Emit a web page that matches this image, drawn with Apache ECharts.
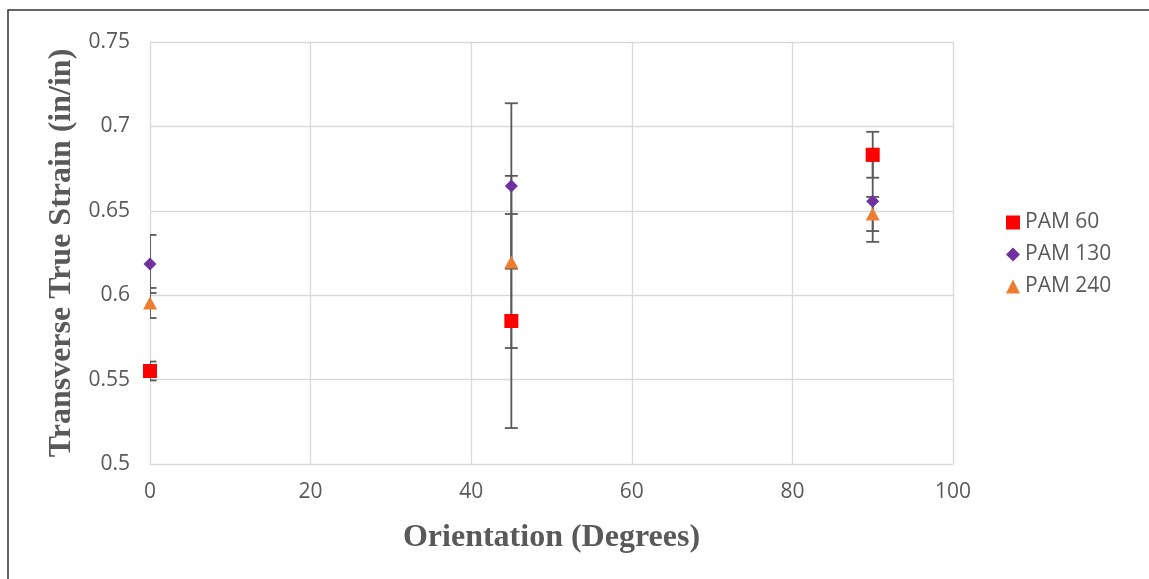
<!DOCTYPE html>
<html>
<head>
<meta charset="utf-8">
<title>Transverse True Strain vs Orientation</title>
<script src="https://cdn.jsdelivr.net/npm/echarts@6/dist/echarts.min.js"></script>
<style>
  html, body { margin: 0; padding: 0; background: #ffffff; }
  #chart { width: 1149px; height: 579px; }
</style>
</head>
<body>
<div id="chart"></div>
<script>
// Orientation angles (degrees)
const orientations = [0, 45, 90];

// Mean transverse true strain (in/in) and error bar half-widths per material
const pam60 = [0.5551, 0.5847, 0.6832];
const pam60Err = [0.0056, 0.0634, 0.0136];

const pam130 = [0.6185, 0.6647, 0.6556];
const pam130Err = [0.0172, 0.0490, 0.0240];

const pam240 = [0.5954, 0.6197, 0.6481];
const pam240Err = [0.0089, 0.0510, 0.0101];

const seriesNames = ['PAM 60', 'PAM 130', 'PAM 240'];
const xTicks = [0, 20, 40, 60, 80, 100];
const yTicks = [0.5, 0.55, 0.6, 0.65, 0.7, 0.75];

const chart = echarts.init(document.getElementById('chart'), null, { renderer: 'canvas' });

const labelColor = '#595959';
const gridColor = '#d9d9d9';
const errColor = '#595959';

function points(vals) {
  return orientations.map((x, i) => [x, vals[i]]);
}

// Vertical error bar with caps, drawn through the axis scales
function errorBarSeries(vals, errs) {
  return {
    type: 'custom',
    z: 1,
    clip: true,
    silent: true,
    data: orientations.map((x, i) => [x, vals[i] - errs[i], vals[i] + errs[i]]),
    renderItem: function (params, api) {
      const x = api.value(0);
      const lo = api.coord([x, api.value(1)]);
      const hi = api.coord([x, api.value(2)]);
      const cap = 6.5;
      const style = { stroke: errColor, lineWidth: 1.8 };
      return {
        type: 'group',
        children: [
          { type: 'line', shape: { x1: lo[0], y1: lo[1], x2: hi[0], y2: hi[1] }, style: style },
          { type: 'line', shape: { x1: lo[0] - cap, y1: lo[1], x2: lo[0] + cap, y2: lo[1] }, style: style },
          { type: 'line', shape: { x1: hi[0] - cap, y1: hi[1], x2: hi[0] + cap, y2: hi[1] }, style: style }
        ]
      };
    }
  };
}

const option = {
  backgroundColor: '#ffffff',
  animation: false,
  grid: { left: 150, right: 196, top: 42, bottom: 115, containLabel: false },
  legend: {
    orient: 'vertical',
    left: 1001,
    top: 207,
    itemGap: 11,
    itemWidth: 14,
    itemHeight: 14,
    data: seriesNames,
    textStyle: { color: labelColor, fontFamily: 'Open Sans', fontSize: 21 }
  },
  xAxis: {
    type: 'value',
    min: 0,
    max: 100,
    interval: 20,
    name: 'Orientation (Degrees)',
    nameLocation: 'middle',
    nameGap: 58,
    nameTextStyle: { color: labelColor, fontFamily: 'Liberation Serif', fontWeight: 'bold', fontSize: 32 },
    axisLine: { show: true, lineStyle: { color: gridColor, width: 1 } },
    axisTick: { show: false },
    axisLabel: { color: labelColor, fontFamily: 'Open Sans', fontSize: 21, margin: 18,
      formatter: v => xTicks.includes(v) ? String(v) : '' },
    splitLine: { show: true, lineStyle: { color: gridColor, width: 1.3 } }
  },
  yAxis: {
    type: 'value',
    min: 0.5,
    max: 0.75,
    interval: 0.05,
    name: 'Transverse True Strain (in/in)',
    nameLocation: 'middle',
    nameGap: 72,
    nameRotate: 90,
    nameTextStyle: { color: labelColor, fontFamily: 'Liberation Serif', fontWeight: 'bold', fontSize: 32 },
    axisLine: { show: true, lineStyle: { color: gridColor, width: 1 } },
    axisTick: { show: false },
    axisLabel: { color: labelColor, fontFamily: 'Open Sans', fontSize: 21, margin: 20,
      formatter: v => {
        const t = yTicks.find(y => Math.abs(y - v) < 1e-9);
        return t === undefined ? '' : String(t);
      } },
    splitLine: { show: true, lineStyle: { color: gridColor, width: 1.3 } }
  },
  graphic: [
    {
      type: 'rect',
      silent: true,
      z: 100,
      shape: { x: 8, y: 10, width: 1160, height: 600 },
      style: { fill: 'none', stroke: '#333333', lineWidth: 1.5 }
    }
  ],
  series: [
    errorBarSeries(pam60, pam60Err),
    errorBarSeries(pam130, pam130Err),
    errorBarSeries(pam240, pam240Err),
    {
      name: 'PAM 60', type: 'scatter', z: 3, clip: false,
      symbol: 'rect', symbolSize: 14,
      itemStyle: { color: '#ff0000', opacity: 1 },
      data: points(pam60)
    },
    {
      name: 'PAM 130', type: 'scatter', z: 3, clip: false,
      symbol: 'diamond', symbolSize: 13,
      itemStyle: { color: '#7030a0', opacity: 1 },
      data: points(pam130)
    },
    {
      name: 'PAM 240', type: 'scatter', z: 3, clip: false,
      symbol: 'triangle', symbolSize: [14, 13],
      itemStyle: { color: '#ed7d31', opacity: 1 },
      data: points(pam240)
    }
  ]
};

chart.setOption(option);
</script>
</body>
</html>
